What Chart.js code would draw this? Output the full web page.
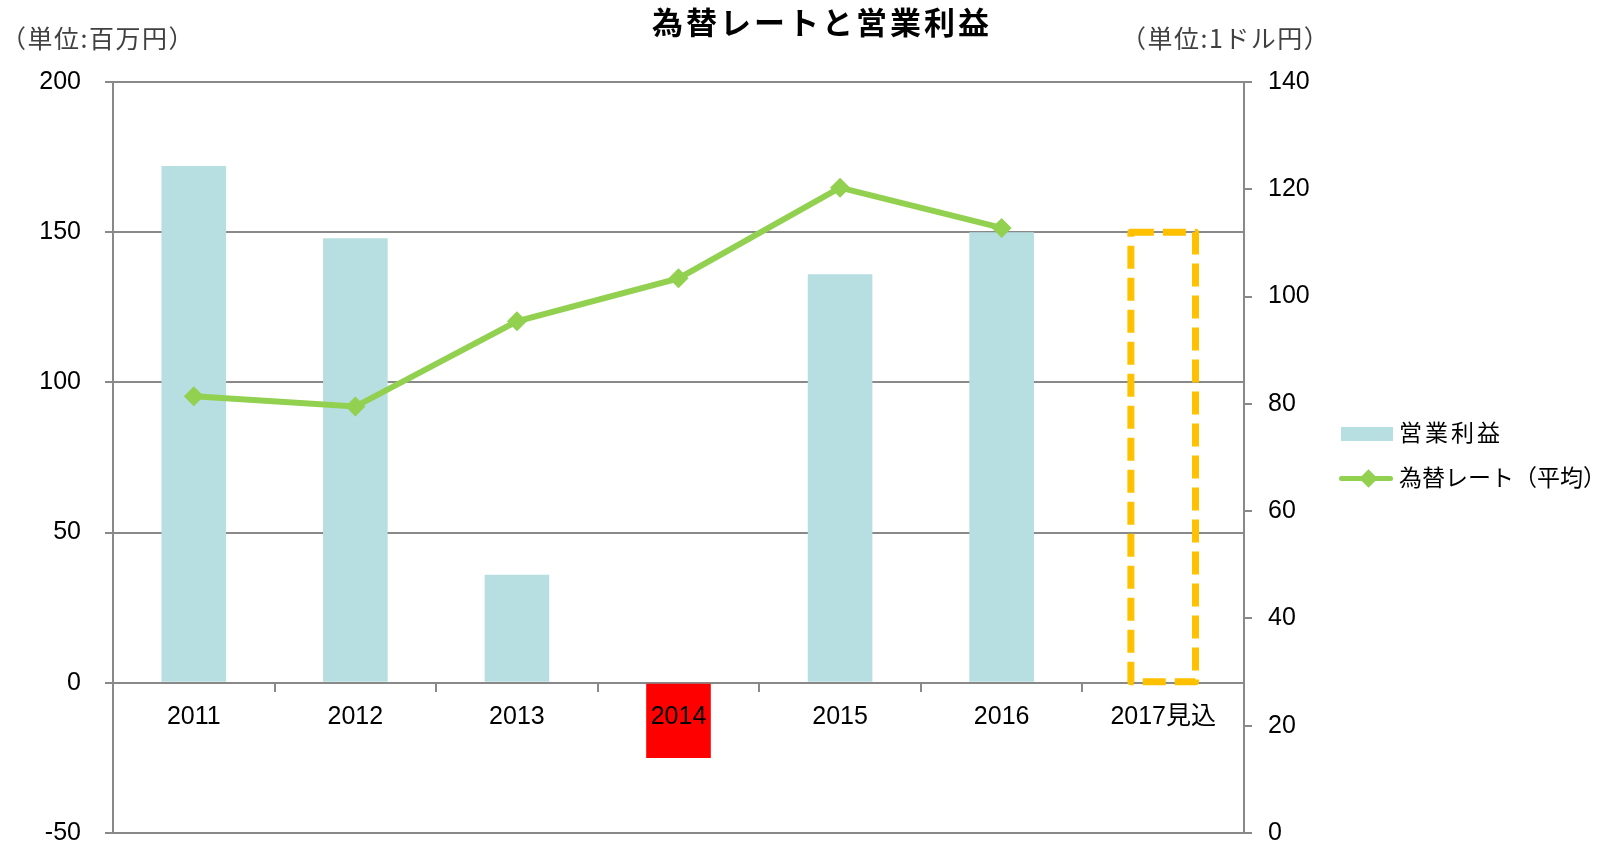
<!DOCTYPE html>
<html lang="ja">
<head>
<meta charset="utf-8">
<title>為替レートと営業利益</title>
<script src="https://cdn.jsdelivr.net/npm/chart.js@4/dist/chart.umd.min.js"></script>
<style>
  body { margin: 0; background: #fff; }
  .wrap { position: relative; width: 1604px; height: 843px; }
  .txt { position: absolute; white-space: nowrap; font-family: "Noto Sans CJK JP", "Liberation Sans", sans-serif; }
  .title { left: 0; width: 1644px; top: -2px; text-align: center; font-size: 31px; font-weight: bold; letter-spacing: 3px; color: #000; }
  .unit { font-size: 25px; letter-spacing: 1.5px; color: #404040; top: 19px; }
  .legend-label { font-size: 23px; color: #000; left: 1399px; }
  .swatch-bar { position: absolute; left: 1341px; top: 427px; width: 52px; height: 14px; background: #B7DEE1; }
  .swatch-line { position: absolute; left: 1339px; top: 476px; width: 54px; height: 5px; border-radius: 3px; background: #92D050; }
  .swatch-diamond { position: absolute; left: 1362px; top: 472px; width: 13px; height: 13px; background: #92D050; transform: rotate(45deg); }
</style>
</head>
<body>
<div class="wrap">
  <canvas id="fxChart" width="1604" height="843"></canvas>
  <div class="txt title">為替レートと営業利益</div>
  <div class="txt unit" style="left:1px;">（単位:百万円）</div>
  <div class="txt unit" style="left:1121px;">（単位:1ドル円）</div>
  <div class="swatch-bar"></div>
  <div class="txt legend-label" style="top:414px; letter-spacing:3px;">営業利益</div>
  <div class="swatch-line"></div>
  <div class="swatch-diamond"></div>
  <div class="txt legend-label" style="top:459px;">為替レート（平均）</div>
</div>
<script>
// Categories and values
const categories = ['2011', '2012', '2013', '2014', '2015', '2016', '2017見込'];
const operatingProfit = [172, 148, 36, -25, 136, 150, null];   // 百万円
const forecastProfit = [null, null, null, null, null, null, 150]; // dashed outline
const exchangeRate = [81.4, 79.5, 95.4, 103.4, 120.3, 112.8, null]; // 円/ドル

// Axis ranges
const leftMin = -50, leftMax = 200, leftStep = 50;
const rightMin = 0, rightMax = 140, rightStep = 20;

const barColors = operatingProfit.map(v => v < 0 ? '#FF0000' : '#B7DEE1');
const gridGray = '#898989';
const tickFont = { family: '"Liberation Sans", "Noto Sans CJK JP", sans-serif', size: 25 };

// Dashed outline around the forecast bar
const forecastOutline = {
    id: 'forecastOutline',
    afterDatasetsDraw(chart) {
        const meta = chart.getDatasetMeta(2);
        const ctx = chart.ctx;
        ctx.save();
        ctx.strokeStyle = '#FFC000';
        ctx.lineWidth = 7;
        ctx.lineJoin = 'round';
        ctx.setLineDash([23, 9]);
        meta.data.forEach((el, i) => {
            if (forecastProfit[i] == null) return;
            const { x, y, base, width } = el.getProps(['x', 'y', 'base', 'width'], true);
            ctx.strokeRect(x - width / 2, y, width, base - y);
        });
        ctx.restore();
    }
};

const ctx = document.getElementById('fxChart').getContext('2d');
const fxChart = new Chart(ctx, {
    type: 'bar',
    data: {
        labels: categories,
        datasets: [{
            type: 'line',
            label: '為替レート（平均）',
            data: exchangeRate,
            yAxisID: 'y1',
            borderColor: '#92D050',
            backgroundColor: '#92D050',
            borderWidth: 6,
            pointStyle: 'rectRot',
            pointRadius: 10,
            pointBorderWidth: 0,
            pointBackgroundColor: '#92D050',
            tension: 0,
            order: 0
        }, {
            label: '営業利益',
            data: operatingProfit,
            yAxisID: 'y',
            backgroundColor: barColors,
            borderWidth: 0,
            categoryPercentage: 1,
            barPercentage: 0.4,
            order: 1
        }, {
            label: '2017見込',
            data: forecastProfit,
            yAxisID: 'y',
            backgroundColor: 'rgba(0,0,0,0)',
            borderWidth: 0,
            grouped: false,
            categoryPercentage: 1,
            barPercentage: 0.4,
            order: 2
        }]
    },
    options: {
        responsive: false,
        animation: false,
        layout: { padding: { top: 82, bottom: 10, left: 0, right: 0 } },
        plugins: {
            legend: { display: false },
            title: { display: false },
            tooltip: { enabled: false }
        },
        scales: {
            x: {
                position: { y: 0 },
                grid: { display: true, offset: true, drawOnChartArea: false, tickLength: 8, color: gridGray, lineWidth: 2 },
                border: { display: true, color: gridGray, width: 2 },
                ticks: { color: '#000', font: tickFont, padding: 11, maxRotation: 0, autoSkip: false, z: 1 }
            },
            y: {
                position: 'left',
                min: leftMin,
                max: leftMax,
                grid: { color: gridGray, lineWidth: 2, tickLength: 8 },
                border: { display: true, color: gridGray, width: 2 },
                ticks: { stepSize: leftStep, color: '#000', font: tickFont, padding: 24 },
                afterFit(scale) { scale.width = 113; scale.paddingTop = 0; scale.paddingBottom = 0; }
            },
            y1: {
                position: 'right',
                min: rightMin,
                max: rightMax,
                grid: { drawOnChartArea: false, color: gridGray, lineWidth: 2, tickLength: 8 },
                border: { display: true, color: gridGray, width: 2 },
                ticks: { stepSize: rightStep, color: '#000', font: tickFont, padding: 16 },
                afterFit(scale) { scale.width = 360; scale.paddingTop = 0; scale.paddingBottom = 0; }
            }
        }
    },
    plugins: [forecastOutline]
});
</script>
</body>
</html>
